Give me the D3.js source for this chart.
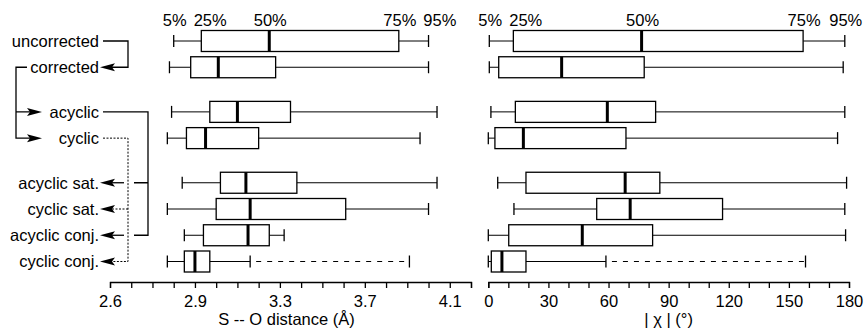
<!DOCTYPE html>
<html>
<head>
<meta charset="utf-8">
<script src="https://cdn.jsdelivr.net/npm/d3@7"></script>
<style>
  body { margin: 0; background: #fff; }
  svg text { font-family: "Liberation Sans", Arial, Helvetica, sans-serif; fill: #000; }
</style>
</head>
<body>
<div id="chart"></div>
<script>
var width = 864, height = 329;

// rows (top to bottom) and the group each one belongs to
var rowLabels = ["uncorrected", "corrected", "acyclic", "cyclic",
                 "acyclic sat.", "cyclic sat.", "acyclic conj.", "cyclic conj."];
var rowGroup = [0, 0, 1, 1, 2, 2, 2, 2];
var pctLabels = ["5%", "25%", "50%", "75%", "95%"];

// S -- O distance (Å) percentiles
var distP5  = [2.80, 2.78, 2.79, 2.77, 2.84, 2.77, 2.85, 2.77];
var distP25 = [2.93, 2.88, 2.97, 2.86, 3.02, 3.00, 2.94, 2.85];
var distP50 = [3.25, 3.01, 3.10, 2.95, 3.14, 3.16, 3.15, 2.90];
var distP75 = [3.86, 3.28, 3.35, 3.20, 3.38, 3.61, 3.25, 2.97];
var distP95 = [4.00, 4.00, 4.04, 3.96, 4.04, 4.00, 3.32, 3.91];
// where the solid whisker stops and the dashed one starts (cyclic conj. only)
var distBreak = [null, null, null, null, null, null, null, 3.16];

// |chi| (deg) percentiles
var chiP5  = [0.5, 0.5, 1.3, 0, 4.7, 12.8, 0, 0];
var chiP25 = [12.5, 5.2, 13.5, 3.3, 18.8, 54.1, 10.2, 1.5];
var chiP50 = [76.5, 36.6, 59.4, 17.5, 68.3, 70.8, 46.9, 6.8];
var chiP75 = [157.1, 77.8, 83.5, 68.7, 85.6, 116.9, 82.0, 18.8];
var chiP95 = [177.9, 177.1, 177.9, 174.3, 178.8, 177.9, 178.3, 158.3];
var chiBreak = [null, null, null, null, null, null, null, 58.7];

// axis ticks
var distMajor = [2.5, 2.9, 3.3, 3.7, 4.1];
var distMajorLabels = ["2.6", "2.9", "3.3", "3.7", "4.1"];
var chiMajor = [0, 30, 60, 90, 120, 150, 180];

var svg = d3.select("#chart").append("svg")
    .attr("width", width)
    .attr("height", height);

var groupGap = 0.7;
var slot = rowLabels.map(function (d, i) { return i + groupGap * rowGroup[i]; });
var y = d3.scaleLinear().domain([0, d3.max(slot)]).range([41, 261.5]);
var rowY = function (i) { return y(slot[i]); };

var xL = d3.scaleLinear().domain([2.5, 4.2]).range([110, 471]);
var xR = d3.scaleLinear().domain([0, 180]).range([488.3, 849]);
var axisY = 282;
var boxH = 21, capH = 12;
var fs = 16.5;

function rowsFor(p5, p25, p50, p75, p95, brk) {
    return rowLabels.map(function (d, i) {
        return { i: i, p5: p5[i], p25: p25[i], p50: p50[i], p75: p75[i], p95: p95[i], brk: brk[i] };
    });
}

function drawPanel(x, rows) {
    var g = svg.append("g");
    var r = g.selectAll("g.row").data(rows).enter().append("g").attr("class", "row");

    // lower whisker
    r.append("line")
        .attr("x1", function (d) { return x(d.p5); })
        .attr("x2", function (d) { return x(d.p25); })
        .attr("y1", function (d) { return rowY(d.i); })
        .attr("y2", function (d) { return rowY(d.i); })
        .attr("stroke", "#000").attr("stroke-width", 1);
    // upper whisker (solid part)
    r.append("line")
        .attr("x1", function (d) { return x(d.p75); })
        .attr("x2", function (d) { return x(d.brk == null ? d.p95 : d.brk); })
        .attr("y1", function (d) { return rowY(d.i); })
        .attr("y2", function (d) { return rowY(d.i); })
        .attr("stroke", "#000").attr("stroke-width", 1);
    // dashed continuation
    var br = r.filter(function (d) { return d.brk != null; });
    br.append("line")
        .attr("x1", function (d) { return x(d.brk) + 6; })
        .attr("x2", function (d) { return x(d.p95); })
        .attr("y1", function (d) { return rowY(d.i); })
        .attr("y2", function (d) { return rowY(d.i); })
        .attr("stroke", "#000").attr("stroke-width", 1.2)
        .attr("stroke-dasharray", "5,6");
    br.append("line")
        .attr("x1", function (d) { return x(d.brk); })
        .attr("x2", function (d) { return x(d.brk); })
        .attr("y1", function (d) { return rowY(d.i) - capH / 2; })
        .attr("y2", function (d) { return rowY(d.i) + capH / 2; })
        .attr("stroke", "#000").attr("stroke-width", 1.3);

    // caps
    ["p5", "p95"].forEach(function (k) {
        r.append("line")
            .attr("x1", function (d) { return x(d[k]); })
            .attr("x2", function (d) { return x(d[k]); })
            .attr("y1", function (d) { return rowY(d.i) - capH / 2; })
            .attr("y2", function (d) { return rowY(d.i) + capH / 2; })
            .attr("stroke", "#000").attr("stroke-width", 1.3);
    });

    // box
    r.append("rect")
        .attr("x", function (d) { return x(d.p25); })
        .attr("width", function (d) { return x(d.p75) - x(d.p25); })
        .attr("y", function (d) { return rowY(d.i) - boxH / 2; })
        .attr("height", boxH)
        .attr("fill", "#fff")
        .attr("stroke", "#000").attr("stroke-width", 1.3);
    // median
    r.append("line")
        .attr("x1", function (d) { return x(d.p50); })
        .attr("x2", function (d) { return x(d.p50); })
        .attr("y1", function (d) { return rowY(d.i) - boxH / 2; })
        .attr("y2", function (d) { return rowY(d.i) + boxH / 2; })
        .attr("stroke", "#000").attr("stroke-width", 3);

    // percentile labels above the first row, pushed right when they would collide
    var first = rows[0];
    var vals = [first.p5, first.p25, first.p50, first.p75, first.p95];
    var prevRight = -Infinity;
    g.selectAll("text.pct").data(pctLabels).enter().append("text")
        .attr("class", "pct")
        .attr("y", 26)
        .attr("font-size", fs)
        .attr("text-anchor", "middle")
        .text(function (d) { return d; })
        .each(function (d, i) {
            var w = this.getComputedTextLength();
            var cx = Math.max(x(vals[i]) + 1, prevRight + 7 + w / 2);
            d3.select(this).attr("x", cx);
            prevRight = cx + w / 2;
        });
    return g;
}

drawPanel(xL, rowsFor(distP5, distP25, distP50, distP75, distP95, distBreak));
drawPanel(xR, rowsFor(chiP5, chiP25, chiP50, chiP75, chiP95, chiBreak));

// axes
var axL = d3.axisBottom(xL)
    .tickValues(d3.range(25, 43).map(function (d) { return d / 10; }))
    .tickSize(6).tickSizeOuter(6).tickPadding(7)
    .tickFormat(function (d) {
        var k = distMajor.findIndex(function (m) { return Math.abs(m - d) < 1e-6; });
        return k < 0 ? "" : distMajorLabels[k];
    });
var axR = d3.axisBottom(xR)
    .tickValues(d3.range(0, 190, 10))
    .tickSize(6).tickSizeOuter(6).tickPadding(7)
    .tickFormat(function (d) { return chiMajor.indexOf(d) < 0 ? "" : d; });

[axL, axR].forEach(function (ax) {
    var a = svg.append("g").attr("transform", "translate(0," + axisY + ")").call(ax);
    a.selectAll("path, line").attr("stroke", "#000").attr("stroke-width", 1.3);
    a.selectAll("text").attr("font-size", fs).attr("fill", "#000")
        .style("font-family", "'Liberation Sans', Arial, Helvetica, sans-serif");
});

svg.append("text")
    .attr("x", (xL(2.5) + xL(4.2)) / 2 - 4)
    .attr("y", 325)
    .attr("font-size", fs)
    .attr("text-anchor", "middle")
    .text("S -- O distance (Å)");
svg.append("text")
    .attr("x", (xR(0) + xR(180)) / 2)
    .attr("y", 325)
    .attr("font-size", fs)
    .attr("text-anchor", "middle")
    .text("| χ | (°)");

// row labels
var labelR = 99;
svg.selectAll("text.row").data(rowLabels).enter().append("text")
    .attr("class", "row")
    .attr("x", labelR)
    .attr("y", function (d, i) { return rowY(i); })
    .attr("dy", "0.36em")
    .attr("font-size", fs)
    .attr("text-anchor", "end")
    .text(function (d) { return d; });

// connector diagram
var conn = svg.append("g").attr("fill", "none").attr("stroke", "#000");
function arrowLeft(tipX, yy) {
    svg.append("path")
        .attr("d", "M" + tipX + "," + yy + "L" + (tipX + 15) + "," + (yy - 4) +
              "L" + (tipX + 12) + "," + yy + "L" + (tipX + 15) + "," + (yy + 4) + "Z")
        .attr("fill", "#000");
}
function arrowRight(tipX, yy) {
    svg.append("path")
        .attr("d", "M" + tipX + "," + yy + "L" + (tipX - 15) + "," + (yy - 4) +
              "L" + (tipX - 12) + "," + yy + "L" + (tipX - 15) + "," + (yy + 4) + "Z")
        .attr("fill", "#000");
}
var tipL = labelR + 1;

// uncorrected -> corrected
conn.append("path").attr("stroke-width", 1.3)
    .attr("d", "M" + (labelR + 4) + "," + rowY(0) + "H128V" + rowY(1) + "H" + (tipL + 10));
arrowLeft(tipL, rowY(1));

// corrected -> acyclic, cyclic
conn.append("path").attr("stroke-width", 1.3)
    .attr("d", "M27," + rowY(1) + "H16V" + rowY(3) + "H32M16," + rowY(2) + "H32");
arrowRight(42, rowY(2));
arrowRight(42, rowY(3));

// acyclic -> acyclic sat., acyclic conj.
conn.append("path").attr("stroke-width", 1.3)
    .attr("d", "M" + (labelR + 4) + "," + rowY(2) + "H148V" + rowY(6) + "H134M148," + rowY(4) + "H134");
[4, 6].forEach(function (i) {
    conn.append("path").attr("stroke-width", 1.3)
        .attr("d", "M124," + rowY(i) + "H" + (tipL + 10));
    arrowLeft(tipL, rowY(i));
});

// cyclic -> cyclic sat., cyclic conj. (dotted)
conn.append("path").attr("stroke-width", 1)
    .attr("stroke-dasharray", "2,1.5")
    .attr("d", "M" + (labelR + 4) + "," + rowY(3) + "H128V" + rowY(7) + "H" + (tipL + 10) +
          "M128," + rowY(5) + "H" + (tipL + 10));
[5, 7].forEach(function (i) { arrowLeft(tipL, rowY(i)); });
</script>
</body>
</html>
